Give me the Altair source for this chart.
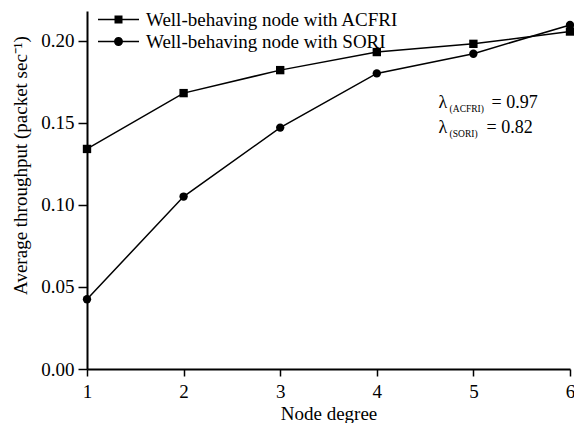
import altair as alt
import pandas as pd

FONT = "Liberation Serif"

node_degree = [1, 2, 3, 4, 5, 6]
acfri = [0.134, 0.168, 0.182, 0.193, 0.198, 0.2055]
sori = [0.0425, 0.105, 0.147, 0.180, 0.192, 0.2095]
series_names = ["Well-behaving node with ACFRI", "Well-behaving node with SORI"]
x_ticks = [1, 2, 3, 4, 5, 6]
y_ticks = [0.0, 0.05, 0.10, 0.15, 0.20]

ann_symbol = ["λ", "λ"]
ann_sub = ["(ACFRI)", "(SORI)"]
ann_value = ["= 0.97", "= 0.82"]
ann_x = [4.64, 4.64]
ann_y = [0.159, 0.1435]
ann_value_dx = [53, 48]

rows = []
for name, vals in zip(series_names, [acfri, sori]):
    for d, v in zip(node_degree, vals):
        rows.append({"series": name, "degree": d, "throughput": v})
df = pd.DataFrame(rows)

x_enc = alt.X("degree:Q",
              scale=alt.Scale(domain=[1, 6], nice=False, zero=False),
              axis=alt.Axis(values=x_ticks, format="d", title="Node degree",
                            labelFlush=False, titlePadding=3, tickSize=7,
                            labelPadding=6))
y_enc = alt.Y("throughput:Q",
              scale=alt.Scale(domain=[0, 0.218], nice=False),
              axis=alt.Axis(values=y_ticks, format=".2f",
                            title="Average throughput (packet sec⁻¹)",
                            titleX=-61, titleY=154, titleBaseline="alphabetic",
                            titleAngle=-90, titleAlign="center",
                            tickSize=9, labelPadding=4))

lines = alt.Chart(df).mark_line(color="black", strokeWidth=1.5).encode(
    x=x_enc, y=y_enc, detail="series:N")

points = alt.Chart(df).mark_point(filled=True, color="black", size=70, opacity=1).encode(
    x=x_enc, y=y_enc,
    shape=alt.Shape("series:N",
                    scale=alt.Scale(domain=series_names, range=["square", "circle"]),
                    legend=None))

path_sq = "M-4.1,-0.15H4.1V0.15H-4.1Z M-0.8,-0.8H0.8V0.8H-0.8Z"
path_ci = "M-4.1,-0.15H4.1V0.15H-4.1Z M-0.9,0A0.9,0.9,0,1,1,0.9,0A0.9,0.9,0,1,1,-0.9,0Z"

legend_layer = alt.Chart(df).transform_filter("datum.degree < 0").mark_point(
    filled=True, color="black").encode(
    x=x_enc, y=y_enc,
    shape=alt.Shape("series:N",
                    scale=alt.Scale(domain=series_names, range=[path_sq, path_ci]),
                    legend=alt.Legend(title=None, orient="none", legendX=22, legendY=-1,
                                      symbolSize=100, symbolFillColor="black",
                                      symbolStrokeWidth=0, symbolOpacity=1,
                                      labelFont=FONT, labelFontSize=19, labelColor="black",
                                      labelOffset=18, rowPadding=2, padding=0,
                                      labelLimit=400)))

ann_layers = []
for i in range(len(ann_symbol)):
    adf = pd.DataFrame({"degree": [ann_x[i]], "throughput": [ann_y[i]]})
    base = alt.Chart(adf)
    ann_layers.append(base.mark_text(align="left", baseline="alphabetic", font=FONT,
                                     fontSize=18, color="black", text=ann_symbol[i]).encode(
        x="degree:Q", y="throughput:Q"))
    ann_layers.append(base.mark_text(align="left", baseline="alphabetic", font=FONT,
                                     fontSize=9.5, color="black", dx=11, dy=4,
                                     text=ann_sub[i]).encode(
        x="degree:Q", y="throughput:Q"))
    ann_layers.append(base.mark_text(align="left", baseline="alphabetic", font=FONT,
                                     fontSize=18, color="black", dx=ann_value_dx[i],
                                     text=ann_value[i]).encode(
        x="degree:Q", y="throughput:Q"))

chart = alt.layer(lines, points, legend_layer, *ann_layers).resolve_scale(
    shape="independent"
).properties(
    width=483, height=358,
    autosize=alt.AutoSizeParams(type="none"),
    padding={"left": 79, "top": 3, "right": 4, "bottom": 54},
).configure_view(stroke=None).configure_axis(
    domainColor="black", domainWidth=2, tickColor="black", tickWidth=1.5,
    labelFont=FONT, labelFontSize=19, labelColor="black",
    titleFont=FONT, titleFontSize=19, titleFontWeight="normal", titleColor="black",
    grid=False,
)

chart.save("out.html", embed_options={"renderer": "svg", "actions": False})
